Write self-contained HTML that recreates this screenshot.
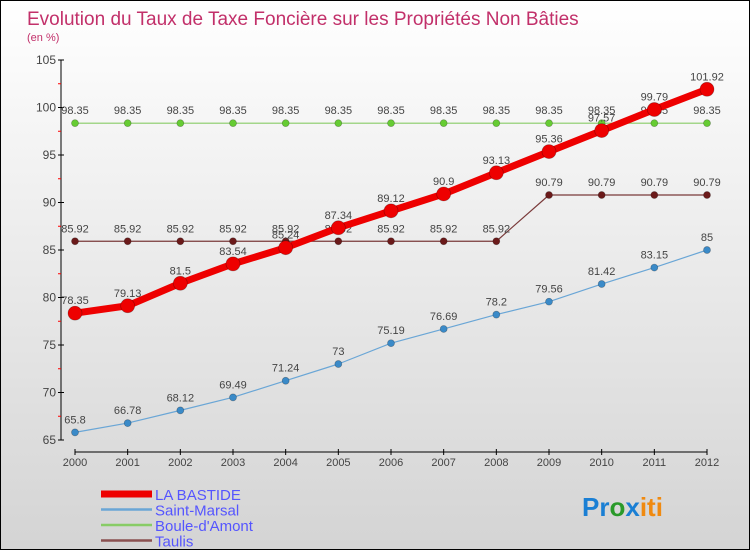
<!DOCTYPE html>
<html><head><meta charset="utf-8"><style>
body{margin:0}
#wrap{width:748px;height:548px;border:1px solid #000;background:linear-gradient(#ffffff,#d4d4d4);position:relative;overflow:hidden;font-family:"Liberation Sans",sans-serif}
svg text{font-family:"Liberation Sans",sans-serif}
</style></head><body>
<div id="wrap">
<svg id="chart" width="748" height="548">
<text x="26" y="24" font-size="19" fill="#c2306a">Evolution du Taux de Taxe Foncière sur les Propriétés Non Bâties</text>
<text x="26" y="40" font-size="11" fill="#c2306a">(en %)</text>
<g id="axes"></g><g id="series"></g><g id="legend"></g>
<text x="581" y="515" font-size="26" font-weight="bold"><tspan fill="#1a7fd4">Pr</tspan><tspan fill="#2a9a2a">o</tspan><tspan fill="#1a7fd4">x</tspan><tspan fill="#f08a10">iti</tspan></text>
</svg></div>
<script>
const years=[2000,2001,2002,2003,2004,2005,2006,2007,2008,2009,2010,2011,2012];
const yTicks=[65,70,75,80,85,90,95,100,105];
const bastide=[78.35,79.13,81.5,83.54,85.24,87.34,89.12,90.9,93.13,95.36,97.57,99.79,101.92];
const marsal=[65.8,66.78,68.12,69.49,71.24,73,75.19,76.69,78.2,79.56,81.42,83.15,85];
const boule=[98.35,98.35,98.35,98.35,98.35,98.35,98.35,98.35,98.35,98.35,98.35,98.35,98.35];
const taulis=[85.92,85.92,85.92,85.92,85.92,85.92,85.92,85.92,85.92,90.79,90.79,90.79,90.79];
const names=["LA BASTIDE","Saint-Marsal","Boule-d'Amont","Taulis"];
const NS="http://www.w3.org/2000/svg";
const x=i=>74+i*(706-74)/(years.length-1);
const y=v=>439-(v-65)*9.5;
function mk(p,t,a){const e=document.createElementNS(NS,t);for(const k in a)e.setAttribute(k,a[k]);p.appendChild(e);return e;}
const ax=document.getElementById('axes');
let e=mk(ax,'line',{x1:60,y1:y(105),x2:60,y2:y(65),stroke:'#000'});


yTicks.forEach((t,i)=>{
 mk(ax,'line',{x1:57,x2:63,y1:y(t),y2:y(t),stroke:'#000'});
 if(i<yTicks.length-1) mk(ax,'line',{x1:57,x2:60,y1:y(t+2.5),y2:y(t+2.5),stroke:'red'});
 const tx=mk(ax,'text',{x:55,y:y(t)+4,'font-size':12,'text-anchor':'end',fill:'#444'});tx.textContent=t;
 
 
});
e=mk(ax,'line',{x1:74,x2:706,y1:451,y2:451,stroke:'#000'});


years.forEach((yr,i)=>{
 mk(ax,'line',{x1:x(i),x2:x(i),y1:448,y2:454,stroke:'#000'});
 const tx=mk(ax,'text',{x:x(i),y:465,'font-size':11,'text-anchor':'middle',fill:'#444'});tx.textContent=yr;
 
 
});
const sg=document.getElementById('series');
function series(data,color,dot,lw,r,name){
 const g=mk(sg,'g',{});
 
 
 mk(g,'polyline',{points:data.map((v,i)=>x(i)+','+y(v)).join(' '),fill:'none',stroke:color,'stroke-width':lw,'stroke-linejoin':'round'});
 data.forEach((v,i)=>{
  const c=mk(g,'circle',{cx:x(i),cy:y(v),r:r,fill:dot,stroke:'rgba(0,0,0,0.3)','stroke-width':0.7});
  
  
  const t=mk(g,'text',{x:x(i),y:y(v)-9,'font-size':11,'text-anchor':'middle',fill:'#444'});t.textContent=v;
  
  
 });
}
series(boule,'#88cc66','#66cc33',1.2,3.5,'boule-d-amont');
series(taulis,'#7a3a3a','#6b1a1a',1.2,3.5,'taulis');
series(marsal,'#6aa6d6','#3a8ac8',1.2,3.5,'saint-marsal');
series(bastide,'#ee0000','#ee0000',7,7,'la-bastide');
const lg=document.getElementById('legend');
const lc=['#ee0000','#6aa6d6','#88cc66','#8a5050'],lw=[7,2.5,2.5,2.5];
names.forEach((n,i)=>{
 const yy=493+i*15.5;
 const g=mk(lg,'g',{});
 
 
 mk(g,'line',{x1:100,x2:151,y1:yy,y2:yy,stroke:lc[i],'stroke-width':lw[i]});
 const t=mk(g,'text',{x:154,y:yy+6,'font-size':15,fill:'#5555ff'});t.textContent=n;
});
</script>
</body></html>
